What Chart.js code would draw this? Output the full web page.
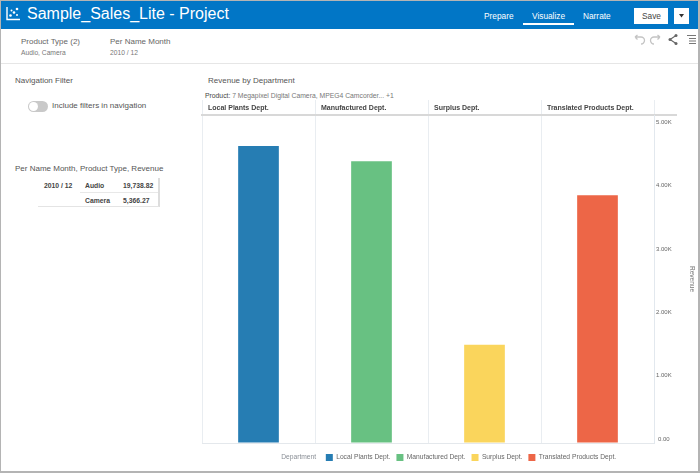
<!DOCTYPE html>
<html>
<head>
<meta charset="utf-8">
<title>Revenue by Department</title>
<script src="https://cdn.jsdelivr.net/npm/chart.js@4"></script>
<style>
  html, body { margin: 0; padding: 0; background: #fff; }
  body { width: 700px; height: 473px; position: relative; overflow: hidden; font-family: "Liberation Sans", sans-serif; color: #555; }
  .t { position: absolute; white-space: nowrap; line-height: 1; }
  .box { position: absolute; }
  #frame { position: absolute; left: 0; top: 0; width: 700px; height: 473px; box-sizing: border-box; border: 1px solid #b4b4b4; border-right-width: 2px; border-bottom-width: 2px; pointer-events: none; z-index: 5; }
  #chartWrap { position: absolute; left: 190px; top: 100px; width: 506px; height: 366px; }
  #revenueChart { display: block; }
</style>
</head>
<body>

<!-- application header -->
<div class="box" style="left:0;top:0;width:700px;height:29px;background:#0176c6"></div>
<svg class="box" style="left:6px;top:6px" width="15" height="15" viewBox="0 0 15 15">
  <path d="M1 1v12.5h13" fill="none" stroke="#fff" stroke-width="1.4"/>
  <circle cx="4.5" cy="9.5" r="1.3" fill="#fff"/><circle cx="8" cy="6.5" r="1.3" fill="#fff"/>
  <circle cx="5.5" cy="4.5" r="1" fill="#fff"/><circle cx="11" cy="3" r="1.3" fill="#fff"/><circle cx="11" cy="9" r="1" fill="#fff"/>
</svg>
<div class="t" style="left:27px;top:6px;font-size:16px;color:#fff">Sample_Sales_Lite - Project</div>
<div class="t" style="left:484px;top:12px;font-size:8.3px;color:#fff">Prepare</div>
<div class="t" style="left:532px;top:12px;font-size:8.3px;color:#fff">Visualize</div>
<div class="box" style="left:523px;top:23px;width:51px;height:2px;background:#fff"></div>
<div class="t" style="left:583px;top:12px;font-size:8.3px;color:#fff">Narrate</div>
<div class="box" style="left:634px;top:8px;width:34px;height:16px;background:#fff"></div>
<div class="t" style="left:642px;top:12px;font-size:8.3px;color:#444">Save</div>
<div class="box" style="left:674px;top:8px;width:15px;height:16px;background:#fff"></div>
<svg class="box" style="left:678px;top:14px" width="7" height="4"><path d="M1 0h5L3.5 3.5z" fill="#333"/></svg>

<!-- filter bar -->
<div class="t" style="left:21px;top:38px;font-size:8px;color:#666">Product Type (2)</div>
<div class="t" style="left:21px;top:50px;font-size:6.7px;color:#777">Audio, Camera</div>
<div class="t" style="left:110px;top:38px;font-size:8px;color:#666">Per Name Month</div>
<div class="t" style="left:110px;top:50px;font-size:6.7px;color:#777">2010 / 12</div>
<div class="box" style="left:0;top:63px;width:700px;height:1px;background:#e6e6e6"></div>
<svg class="box" style="left:632px;top:33px" width="66" height="14" viewBox="0 0 66 14" fill="none">
  <path d="M3 4h6a3.5 3.5 0 0 1 0 7M3 4l2.5-2M3 4l2.5 2.5" stroke="#c4c4c4" stroke-width="1.3"/>
  <path d="M28 4h-6a3.5 3.5 0 0 0 0 7M28 4l-2.5-2M28 4l-2.5 2.5" stroke="#c4c4c4" stroke-width="1.3"/>
  <path d="M44 2.5l-6 4 6 4" stroke="#666" stroke-width="1.1"/>
  <circle cx="38" cy="6.5" r="1.5" fill="#666"/><circle cx="44" cy="2.5" r="1.5" fill="#666"/><circle cx="44" cy="10.5" r="1.5" fill="#666"/>
  <path d="M55 2.5h9M57 5.5h7M57 8h7M57 10.5h7" stroke="#777" stroke-width="1"/>
</svg>

<!-- left panel -->
<div class="t" style="left:15px;top:77px;font-size:8px;color:#555">Navigation Filter</div>
<div class="box" style="left:28px;top:101px;width:20px;height:11px;border-radius:6px;background:#c9c9c9"></div>
<div class="box" style="left:29px;top:102px;width:9px;height:9px;border-radius:50%;background:#fff"></div>
<div class="t" style="left:52px;top:102px;font-size:8px;color:#555">Include filters in navigation</div>
<div class="t" style="left:15px;top:165px;font-size:8px;color:#555">Per Name Month, Product Type, Revenue</div>
<div class="box" style="left:38px;top:178px;width:122px;height:29px;border-right:2px solid #ddd;border-bottom:1px solid #e4e4e4;box-sizing:border-box"></div>
<div class="box" style="left:80px;top:192px;width:78px;height:1px;background:#e8e8e8"></div>
<div class="t" style="left:44px;top:183px;font-size:6.8px;font-weight:700;color:#444">2010 / 12</div>
<div class="t" style="left:85px;top:183px;font-size:6.8px;font-weight:700;color:#444">Audio</div>
<div class="t" style="left:123px;top:183px;font-size:6.8px;font-weight:700;color:#444">19,738.82</div>
<div class="t" style="left:85px;top:198px;font-size:6.8px;font-weight:700;color:#444">Camera</div>
<div class="t" style="left:123px;top:198px;font-size:6.8px;font-weight:700;color:#444">5,366.27</div>

<!-- chart titles -->
<div class="t" style="left:208px;top:77px;font-size:8px;color:#555">Revenue by Department</div>
<div class="t" style="left:205px;top:93px;font-size:6.8px;color:#777"><span style="color:#444">Product:</span> 7 Megapixel Digital Camera, MPEG4 Camcorder... +1</div>
<div class="box" style="left:654px;top:114px;width:23px;height:2px;background:#d8d8d8"></div>

<div id="chartWrap"><canvas id="revenueChart" width="506" height="366"></canvas></div>
<div id="frame"></div>

<script>
const departments = ['Local Plants Dept.', 'Manufactured Dept.', 'Surplus Dept.', 'Translated Products Dept.'];
const revenue     = [4685, 4445, 1550, 3910];
const barColors   = ['#267db3', '#68c182', '#fad55c', '#ed6647'];
const yTicks      = [0, 1000, 2000, 3000, 4000, 5000];

const FONT = '"Liberation Sans", sans-serif';

// Legend sits lower and further left than Chart.js would put it
const legendShift = {
  id: 'legendShift',
  afterLayout(chart) {
    chart.legend.top += 5;
    chart.legend.bottom += 5;
    chart.legend.left -= 5.5;
    chart.legend.right -= 5.5;
  },
};

new Chart(document.getElementById('revenueChart'), {
  type: 'bar',
  data: {
    labels: departments,
    datasets: [{
      label: 'Revenue',
      data: revenue,
      backgroundColor: barColors,
      barPercentage: 0.36,
      categoryPercentage: 1,
    }],
  },
  plugins: [legendShift],
  options: {
    responsive: false,
    animation: false,
    layout: { padding: { left: 12 } },
    plugins: {
      tooltip: { enabled: false },
      legend: {
        position: 'bottom',
        onClick: null,
        labels: {
          boxWidth: 7,
          boxHeight: 7,
          padding: 6,
          font: { family: FONT, size: 6.7 },
          color: '#666',
          // first entry is the legend's title, it has no swatch
          generateLabels: () => [
            { text: 'Department\u00a0\u00a0', fillStyle: 'transparent', strokeStyle: 'transparent', lineWidth: 0, fontColor: '#8a8f96' },
            ...departments.map((name, i) => ({
              text: name,
              fillStyle: barColors[i],
              strokeStyle: barColors[i],
              lineWidth: 0,
              fontColor: '#666',
            })),
          ],
        },
      },
    },
    scales: {
      x: {
        position: 'top',
        afterFit: (axis) => { axis.height = 15; },
        grid: { offset: true, color: '#e9edf1', tickLength: 15 },
        border: { color: '#d8d8d8', width: 2 },
        ticks: {
          padding: -12,
          labelOffset: -50.5,
          align: 'start',
          maxRotation: 0,
          autoSkip: false,
          color: '#444',
          font: { family: FONT, size: 7, weight: 700 },
        },
      },
      y: {
        position: 'right',
        min: 0,
        max: 5175,
        afterFit: (axis) => { axis.width = 42; },
        afterBuildTicks: (axis) => { axis.ticks = yTicks.map((value) => ({ value })); },
        grid: {
          drawTicks: false,
          color: (ctx) => (ctx.tick.value === 0 ? '#e4e8ec' : 'transparent'),
        },
        border: { color: '#e2e8ee' },
        title: {
          display: true,
          text: 'Revenue',
          color: '#777',
          padding: { top: 0, bottom: 5 },
          font: { family: FONT, size: 6.5 },
        },
        ticks: {
          autoSkip: false,
          padding: 2,
          labelOffset: -4,
          crossAlign: 'center',
          color: '#666',
          font: { family: FONT, size: 6 },
          callback: (v) => (v === 0 ? '0.00' : (v / 1000).toFixed(2) + 'K'),
        },
      },
    },
  },
});
</script>
</body>
</html>
